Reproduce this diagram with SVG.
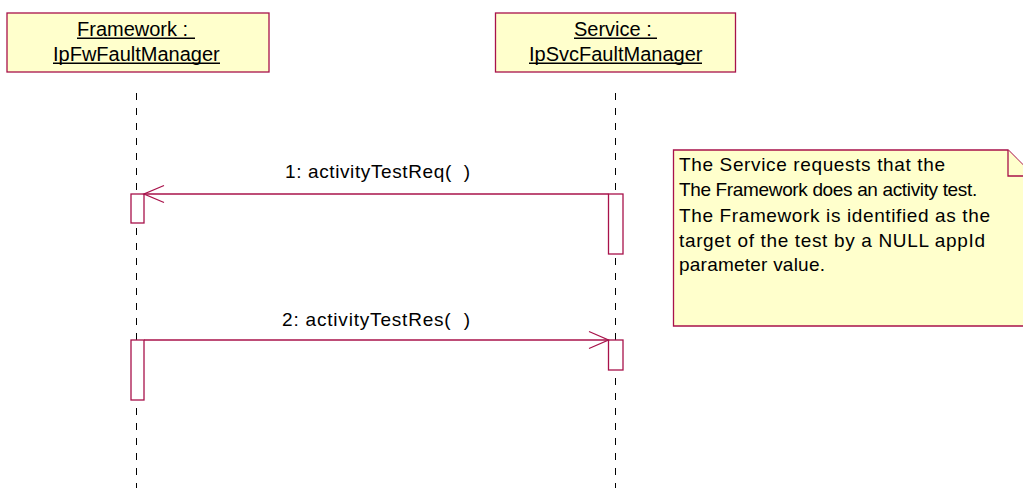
<svg xmlns="http://www.w3.org/2000/svg" width="1023" height="488" viewBox="0 0 1023 488">
<style>
.box{fill:#FFFFCC;stroke:#A8124A;stroke-width:1.3}
.act{fill:#FFFFFF;stroke:#A8124A;stroke-width:1.3}
.life{stroke:#000;stroke-width:1;stroke-dasharray:7 8;fill:none}
.msg{stroke:#A8124A;stroke-width:1.3;fill:none}
.t{font-family:"Liberation Sans",Arial,sans-serif;fill:#000;white-space:pre}
.title{font-size:20px}
.lbl{font-size:19px}
.ul{stroke:#000;stroke-width:1.5}
</style>
<rect width="1023" height="488" fill="#FFFFFF"/>
<g id="lifelines">
<line class="life" x1="136.5" y1="93" x2="136.5" y2="488"/>
<line class="life" x1="615.5" y1="93" x2="615.5" y2="488"/>
</g>
<g id="framework">
<rect class="box" x="7" y="13" width="262" height="59"/>
<text class="t title" x="77" y="36">Framework :</text>
<line class="ul" x1="77" y1="38.3" x2="195" y2="38.3"/>
<text class="t title" x="53" y="61">IpFwFaultManager</text>
<line class="ul" x1="53" y1="63.3" x2="220" y2="63.3"/>
</g>
<g id="service">
<rect class="box" x="495.5" y="13" width="240" height="59"/>
<text class="t title" x="574" y="36">Service :</text>
<line class="ul" x1="574" y1="38.3" x2="657" y2="38.3"/>
<text class="t title" x="529" y="61">IpSvcFaultManager</text>
<line class="ul" x1="529" y1="63.3" x2="702" y2="63.3"/>
</g>
<g id="activations">
<rect class="act" x="131" y="194" width="13" height="29"/>
<rect class="act" x="608.5" y="194" width="14.5" height="60"/>
<rect class="act" x="131" y="340" width="13" height="60"/>
<rect class="act" x="608.5" y="340" width="14.5" height="30"/>
</g>
<g id="connectors">
<line class="msg" x1="608.5" y1="194" x2="144" y2="194"/>
<polyline class="msg" points="164,185.5 144,194 164,202.5"/>
<text class="t lbl" x="285" y="178" textLength="185" lengthAdjust="spacing" xml:space="preserve">1: activityTestReq(  )</text>
<line class="msg" x1="144" y1="340" x2="608.5" y2="340"/>
<polyline class="msg" points="589,331.5 608.5,340 589,348.5"/>
<text class="t lbl" x="282" y="326" textLength="188" lengthAdjust="spacing" xml:space="preserve">2: activityTestRes(  )</text>
</g>
<g id="note">
<path class="box" d="M673.5,150 H1008 L1034,176 V326 H673.5 Z"/>
<path class="box" d="M1008,150 V176 H1034"/>
<text class="t lbl" x="679" y="171" textLength="266" lengthAdjust="spacing">The Service requests that the</text>
<text class="t lbl" x="679" y="196" letter-spacing="-0.35">The Framework does an activity test.</text>
<text class="t lbl" x="679" y="221.5" textLength="311" lengthAdjust="spacing">The Framework is identified as the</text>
<text class="t lbl" x="679" y="246.5" textLength="306" lengthAdjust="spacing">target of the test by a NULL appId</text>
<text class="t lbl" x="679" y="271" textLength="146" lengthAdjust="spacing">parameter value.</text>
</g>
</svg>
